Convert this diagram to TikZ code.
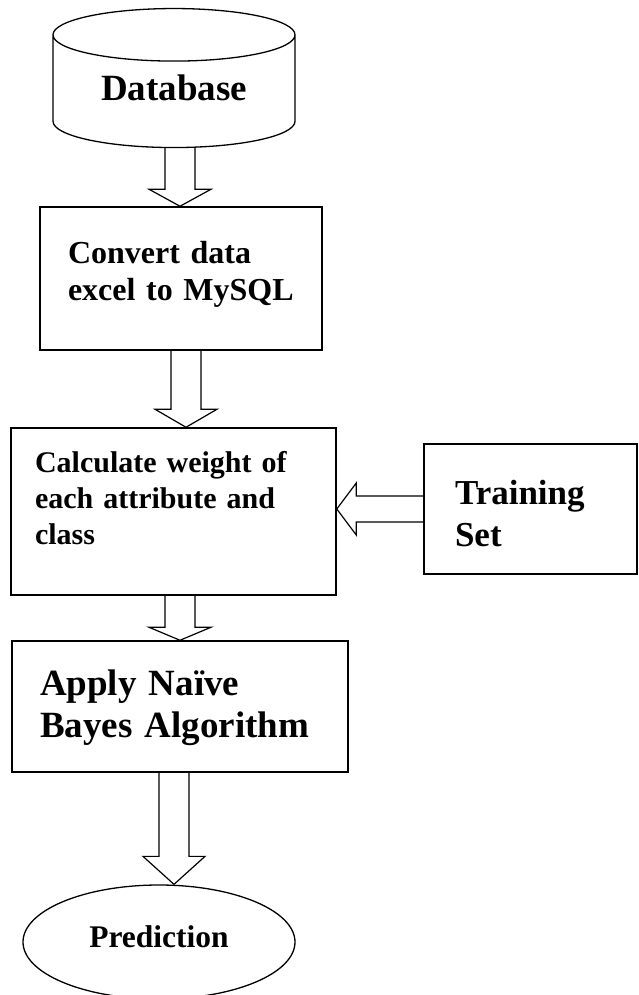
\documentclass[tikz,border=0pt]{standalone}
\usepackage{fontspec}
\setmainfont{Liberation Serif}
\usetikzlibrary{calc,shapes.geometric}
\tikzset{
  stepbox/.style={
    rectangle,
    draw=black,
    line width=1.5pt,
    inner sep=0pt,
    align=left,
    font=\bfseries
  },
  dbshape/.style={
    cylinder,
    shape border rotate=90,
    aspect=0.36,
    draw=black,
    line width=1.3pt,
    inner sep=0pt,
    font=\bfseries\fontsize{37}{42}\selectfont
  },
  endshape/.style={
    ellipse,
    draw=black,
    line width=1.3pt,
    inner sep=0pt,
    font=\bfseries\fontsize{31.5}{36}\selectfont
  },
  blockarrow/.style={draw=black, line width=1.2pt, line join=miter}
}
% hollow down arrow: from, to, column x, head length
\newcommand{\blockdown}[4]{
  \draw[blockarrow]
    ($(#1 -| #3,0)+(-15,0)$) -- ($(#2 -| #3,0)+(-15,-#4)$) -- ++(-16,0)
    -- (#2 -| #3,0) -- ($(#2 -| #3,0)+(31,-#4)$) -- ++(-16,0)
    -- ($(#1 -| #3,0)+(15,0)$);
}

\begin{document}
\begin{tikzpicture}[x=1pt, y=-1pt]
  \useasboundingbox (0,0) rectangle (639,995);
  % Stages
  \node[dbshape, minimum width=242pt, minimum height=139pt, text depth=8pt] (db) at (174,91.5) {Database};
  \node[stepbox, minimum width=282pt, minimum height=143pt, text width=226pt, text depth=53pt,
        font=\bfseries\fontsize{32}{37}\selectfont] (conv) at (181,278.5)
    {Convert data\\excel to MySQL};
  \node[stepbox, minimum width=325pt, minimum height=167pt, text width=277pt, text depth=99pt,
        font=\bfseries\fontsize{30}{36}\selectfont] (calc) at (173.5,511.5)
    {Calculate weight of\\each attribute and\\class};
  \node[stepbox, minimum width=213pt, minimum height=130pt, text width=151pt, text height=34pt,
        font=\bfseries\fontsize{35}{42}\selectfont] (train) at (530.5,509)
    {Training\\Set};
  \node[stepbox, minimum width=336pt, minimum height=131pt, text width=280pt, text depth=48pt,
        font=\bfseries\fontsize{37}{42}\selectfont] (apply) at (180,706.5)
    {Apply Naïve\\Bayes Algorithm};
  \node[endshape, minimum width=272pt, minimum height=114pt, text depth=11pt] (pred) at (159,942) {Prediction};

  % Block arrows
  \blockdown{db.south}{conv.north}{180}{17}
  \blockdown{conv.south}{calc.north}{186}{18}
  \blockdown{calc.south}{apply.north}{180}{13}
  \blockdown{apply.south}{pred.north}{174}{28}
  \draw[blockarrow]
    ($(train.west)+(0,-13)$) -- ++(-67,0) -- ++(0,-13) -- (calc.east |- train.west)
    -- ($(train.west)+(-67,26)$) -- ++(0,-13) -- ($(train.west)+(0,13)$);
\end{tikzpicture}
\end{document}
